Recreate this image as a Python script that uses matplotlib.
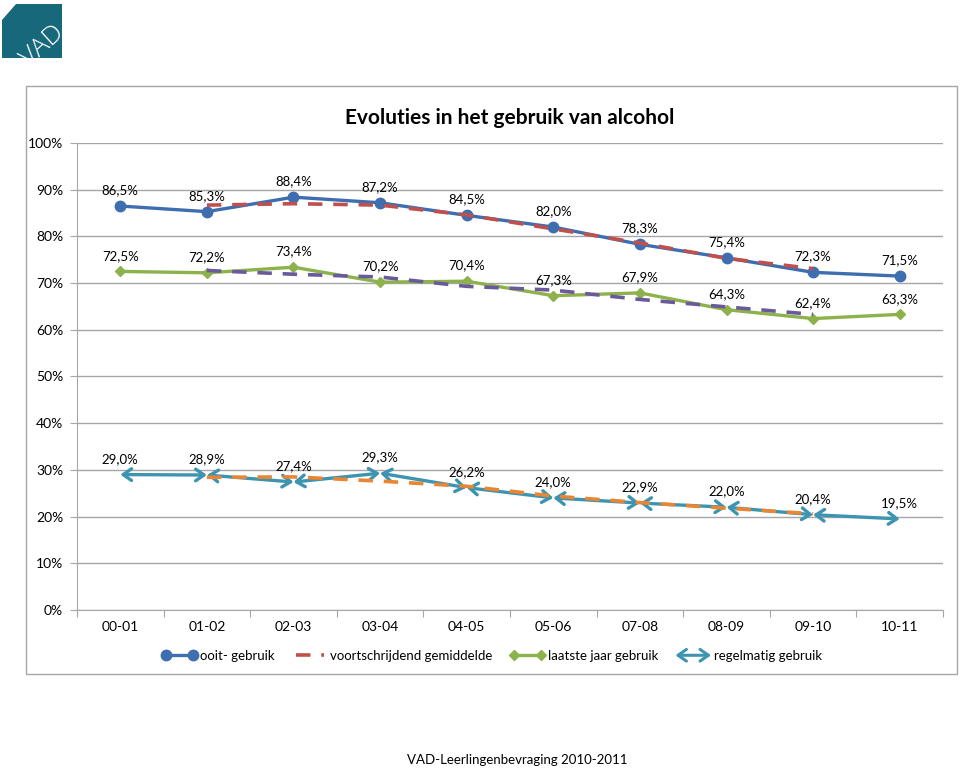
import matplotlib
matplotlib.use('Agg')
import matplotlib.pyplot as plt
from matplotlib.patches import Polygon, Rectangle, FancyArrowPatch
from matplotlib.legend_handler import HandlerBase
from matplotlib.lines import Line2D

plt.rcParams['font.family'] = ['Lato', 'DejaVu Sans']
plt.rcParams['axes.grid'] = False

# data
jaren = ['00-01', '01-02', '02-03', '03-04', '04-05', '05-06', '07-08', '08-09', '09-10', '10-11']
ooit = [86.5, 85.3, 88.4, 87.2, 84.5, 82.0, 78.3, 75.4, 72.3, 71.5]
laatste = [72.5, 72.2, 73.4, 70.2, 70.4, 67.3, 67.9, 64.3, 62.4, 63.3]
regelmatig = [29.0, 28.9, 27.4, 29.3, 26.2, 24.0, 22.9, 22.0, 20.4, 19.5]
# voortschrijdend gemiddelde (dashed), from 01-02 to 09-10
ooit_gem = [86.7, 87.0, 86.7, 84.6, 81.6, 78.6, 75.3, 73.1]
laatste_gem = [72.7, 71.9, 71.3, 69.3, 68.5, 66.5, 64.9, 63.3]
regelmatig_gem = [28.4, 28.5, 27.6, 26.5, 24.4, 23.0, 21.8, 20.6]

c_ooit = '#3E6DB0'
c_laatste = '#8DB24C'
c_regel = '#3C94B0'
c_red = '#C0504D'
c_purple = '#6A5A9C'
c_orange = '#EA8533'

def pct(v):
    return ('%.1f%%' % v).replace('.', ',')


class ArrowHandler(HandlerBase):
    def create_artists(self, legend, orig, xdescent, ydescent, width, height, fontsize, trans):
        y = height / 2 - ydescent
        a = FancyArrowPatch((-xdescent, y), (width - xdescent, y), arrowstyle='<->,head_length=0.5,head_width=0.35',
                            mutation_scale=12, color=c_regel, lw=2.2, shrinkA=0, shrinkB=0, transform=trans)
        return [a]


fig = plt.figure(figsize=(9.6, 7.7), dpi=100)

# chart frame
fig.patches.append(Rectangle((0.0271, 0.1247), 0.9698, 0.7636, transform=fig.transFigure,
                             fill=False, edgecolor='#A6A6A6', lw=1.0))

# logo (white text outside the shape is invisible on the white page)
logo = Polygon([(2/960, 1-20/770), (16/960, 1-4/770), (62/960, 1-4/770), (62/960, 1-58/770), (2/960, 1-58/770)],
               closed=True, transform=fig.transFigure, facecolor='#17687B', edgecolor='none')
fig.patches.append(logo)
fig.text(43/960, 1-46/770, 'VAD', color='white', fontsize=19, rotation=42, ha='center', va='center',
         family=['Open Sans', 'DejaVu Sans'], fontweight='light')

ax = fig.add_axes([0.0802, 0.2078, 0.9021, 0.6065])
x = list(range(len(jaren)))
xg = x[1:9]

ax.plot(x, ooit, color=c_ooit, lw=2.4, marker='o', ms=7.5, zorder=3, label='ooit- gebruik')
ax.plot(xg, ooit_gem, color=c_red, lw=2.6, ls=(0, (4, 3)), zorder=4, label='voortschrijdend gemiddelde')
ax.plot(x, laatste, color=c_laatste, lw=2.4, marker='D', ms=5.5, zorder=3, label='laatste jaar gebruik')
ax.plot(xg, laatste_gem, color=c_purple, lw=2.6, ls=(0, (4, 3)), zorder=4)

for i in range(len(x) - 1):
    ax.annotate('', xy=(x[i + 1], regelmatig[i + 1]), xytext=(x[i], regelmatig[i]),
                arrowprops=dict(arrowstyle='<->,head_length=0.5,head_width=0.35', color=c_regel, lw=2.4,
                                shrinkA=0, shrinkB=0, mutation_scale=12), zorder=3)
ax.plot(xg, regelmatig_gem, color=c_orange, lw=2.6, ls=(0, (4, 3)), zorder=4)

for serie in (ooit, laatste, regelmatig):
    for xi, v in zip(x, serie):
        ax.annotate(pct(v), (xi, v), xytext=(0, 7), textcoords='offset points', ha='center', va='bottom',
                    fontsize=9.5, color='black')

ax.set_xlim(-0.5, 9.5)
ax.set_ylim(0, 100)
ax.set_yticks(range(0, 101, 10))
ax.set_yticklabels(['%d%%' % t for t in range(0, 101, 10)], fontsize=10)
# category boundaries as major ticks, names as minor labels
ax.set_xticks([i - 0.5 for i in range(len(x) + 1)])
ax.set_xticklabels([])
ax.set_xticks(x, minor=True)
ax.set_xticklabels(jaren, minor=True, fontsize=10)
ax.tick_params(axis='x', which='minor', length=0, pad=8)
ax.tick_params(axis='x', which='major', length=5, color='#A6A6A6', direction='out')
ax.tick_params(axis='y', length=5, color='#A6A6A6', pad=5)
for s in ('top', 'right'):
    ax.spines[s].set_visible(False)
for s in ('left', 'bottom'):
    ax.spines[s].set_color('#A6A6A6')
ax.set_axisbelow(True)
ax.grid(True, which='major', axis='y', color='#A6A6A6', lw=1.0)
for tk in ax.xaxis.get_major_ticks() + ax.xaxis.get_minor_ticks():
    tk.gridline.set_visible(False)

ax.set_title('Evoluties in het gebruik van alcohol', fontsize=15, fontweight='bold', pad=14)

arrow_proxy = Line2D([], [], color=c_regel)
handles, labels = ax.get_legend_handles_labels()
handles.append(arrow_proxy)
labels.append('regelmatig gebruik')
ax.legend(handles, labels, loc='upper center', bbox_to_anchor=(0.479, -0.06), ncol=4, frameon=False,
          numpoints=2, fontsize=9.5, handlelength=2.7, handletextpad=0.2, columnspacing=1.3,
          handler_map={arrow_proxy: ArrowHandler()})

fig.text(517/960, 10/770, 'VAD-Leerlingenbevraging 2010-2011', ha='center', va='center', fontsize=9.5)

fig.savefig('out.png', dpi=100)
